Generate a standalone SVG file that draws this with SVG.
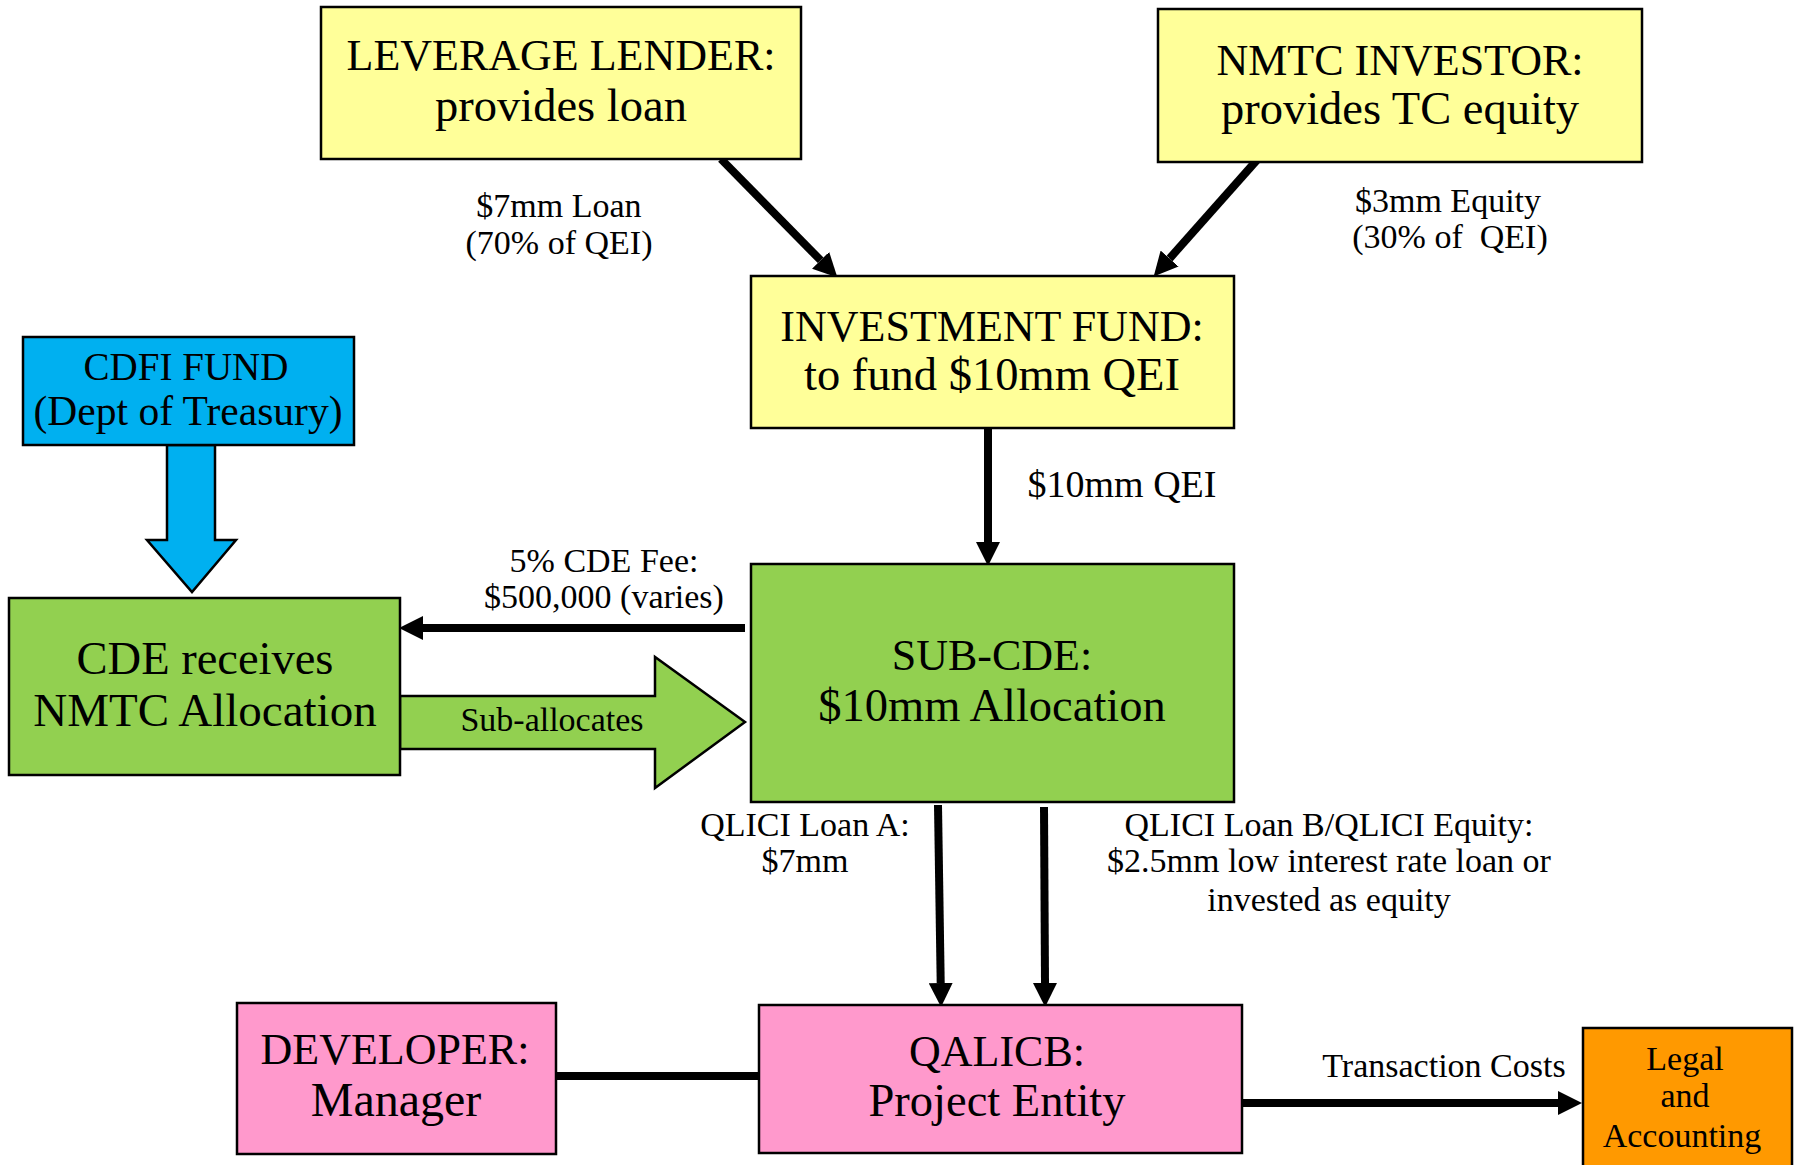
<svg xmlns="http://www.w3.org/2000/svg" width="1795" height="1165" viewBox="0 0 1795 1165">
<style>
text{font-family:"Liberation Serif",serif;fill:#000;text-anchor:middle}
.box{stroke:#000;stroke-width:2.5}
.big{font-size:44px}
.low{font-size:46.5px}
.mid{font-size:39px}
.lbl{font-size:34px}
.yel{fill:#FFFF99}
.blu{fill:#00B0F0}
.grn{fill:#92D050}
.pnk{fill:#FF99CC}
.org{fill:#FF9900}
.ln{stroke:#000;stroke-width:8;fill:none}
.arr{marker-end:url(#ah)}
</style>
<defs>
<marker id="ah" markerUnits="userSpaceOnUse" markerWidth="24" markerHeight="24" viewBox="0 0 24 24" refX="0" refY="12" orient="auto">
<path d="M0,0 L24,12 L0,24 z" fill="#000"/>
</marker>
</defs>
<rect width="1795" height="1165" fill="#fff"/>

<g id="connectors">
<line class="ln arr" x1="721" y1="159" x2="820.6" y2="260.3"/>
<line class="ln arr" x1="1257" y1="160" x2="1169.6" y2="258.5"/>
<line class="ln arr" x1="988" y1="428" x2="988" y2="542"/>
<line class="ln arr" x1="745" y1="628" x2="423" y2="628"/>
<line class="ln arr" x1="938" y1="805" x2="940.7" y2="983"/>
<line class="ln arr" x1="1044" y1="807" x2="1045" y2="983"/>
<line class="ln arr" x1="1242" y1="1103" x2="1558" y2="1103"/>
<line class="ln" x1="556" y1="1076" x2="759" y2="1076"/>
<polygon class="box blu" points="167,445 215,445 215,540 236,540 192,592 147,540 167,540"/>
<polygon class="box grn" points="400,696 655,696 655,657 745,722 655,788 655,749 400,749"/>
<text class="lbl" x="552" y="731">Sub-allocates</text>
<text class="lbl" x="559" y="217">$7mm Loan</text>
<text class="lbl" x="559" y="254">(70% of QEI)</text>
<text class="lbl" x="1448" y="212">$3mm Equity</text>
<text class="lbl" x="1450" y="248" xml:space="preserve">(30% of  QEI)</text>
<text x="1122" y="497" style="font-size:38px">$10mm QEI</text>
<text class="lbl" x="604" y="572">5% CDE Fee:</text>
<text class="lbl" x="604" y="608">$500,000 (varies)</text>
<text class="lbl" x="805" y="836">QLICI Loan A:</text>
<text class="lbl" x="805" y="872">$7mm</text>
<text class="lbl" x="1329" y="836">QLICI Loan B/QLICI Equity:</text>
<text class="lbl" x="1329" y="872">$2.5mm low interest rate loan or</text>
<text class="lbl" x="1329" y="911">invested as equity</text>
<text class="lbl" x="1444" y="1077">Transaction Costs</text>
</g>

<g id="leverage-lender">
<rect class="box yel" x="321" y="7" width="480" height="152"/>
<text class="big" x="561" y="70">LEVERAGE LENDER:</text>
<text class="low" x="561" y="121">provides loan</text>
</g>

<g id="nmtc-investor">
<rect class="box yel" x="1158" y="9" width="484" height="153"/>
<text class="big" x="1400" y="75">NMTC INVESTOR:</text>
<text class="low" x="1400" y="124">provides TC equity</text>
</g>

<g id="investment-fund">
<rect class="box yel" x="751" y="276" width="483" height="152"/>
<text class="big" x="992" y="341">INVESTMENT FUND:</text>
<text class="low" x="992" y="390">to fund $10mm QEI</text>
</g>

<g id="cdfi-fund">
<rect class="box blu" x="23" y="337" width="331" height="108"/>
<text class="mid" x="186" y="380">CDFI FUND</text>
<text x="188" y="425" style="font-size:41.5px">(Dept of Treasury)</text>
</g>

<g id="cde">
<rect class="box grn" x="9" y="598" width="391" height="177"/>
<text class="low" x="205" y="674">CDE receives</text>
<text x="205" y="726" style="font-size:47px">NMTC Allocation</text>
</g>

<g id="sub-cde">
<rect class="box grn" x="751" y="564" width="483" height="238"/>
<text class="big" x="992" y="670">SUB-CDE:</text>
<text class="low" x="992" y="721">$10mm Allocation</text>
</g>

<g id="developer">
<rect class="box pnk" x="237" y="1003" width="319" height="151"/>
<text class="big" x="395" y="1064">DEVELOPER:</text>
<text x="396" y="1116" style="font-size:48px">Manager</text>
</g>

<g id="qalicb">
<rect class="box pnk" x="759" y="1005" width="483" height="148"/>
<text class="big" x="997" y="1066">QALICB:</text>
<text class="low" x="997" y="1116">Project Entity</text>
</g>

<g id="legal-accounting">
<rect class="box org" x="1583" y="1028" width="209" height="142"/>
<text class="lbl" x="1685" y="1070">Legal</text>
<text class="lbl" x="1685" y="1107">and</text>
<text class="lbl" x="1682" y="1147">Accounting</text>
</g>
</svg>
